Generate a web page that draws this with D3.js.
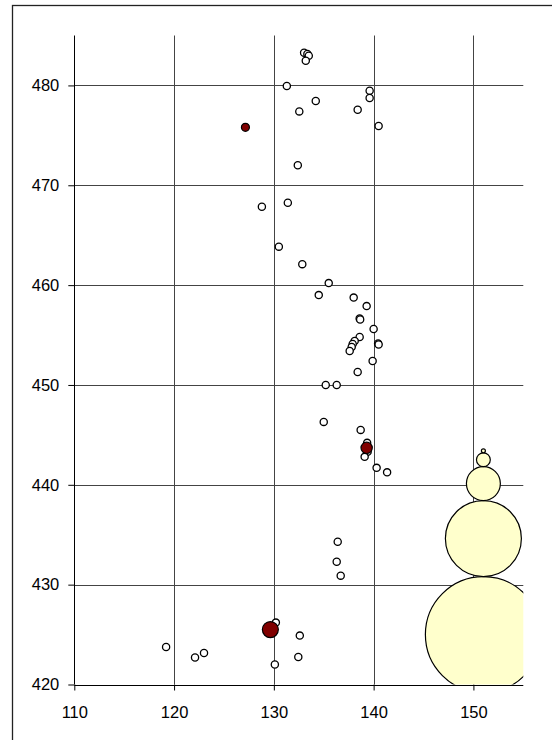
<!DOCTYPE html>
<html>
<head>
<meta charset="utf-8">
<script src="https://cdn.jsdelivr.net/npm/d3@7"></script>
<style>
  body { margin: 0; background: #fff; }
  svg text { font-family: "Liberation Sans", Arial, sans-serif; font-size: 16.5px; fill: #000; }
</style>
</head>
<body>
<div id="chart"></div>
<script>
// open markers
const pointX = [133.03, 133.36, 133.5, 133.2, 131.3, 139.6, 139.6, 134.2, 138.4, 132.55,
    140.5, 132.4, 128.8, 131.4, 130.5, 132.85, 135.5, 134.5, 138.0, 139.3,
    138.6, 138.65, 140.0, 138.6, 140.45, 140.5, 138.1, 137.9, 137.8, 137.6,
    139.9, 138.4, 135.2, 136.3, 135.0, 138.7, 139.35, 139.4, 139.1, 140.3,
    141.35, 136.4, 136.3, 136.7, 130.2, 132.6, 119.2, 122.1, 123.0, 132.45, 130.1];
const pointY = [483.27, 483.15, 482.98, 482.47, 479.94, 479.47, 478.74, 478.44, 477.57, 477.4,
    475.93, 472.0, 467.85, 468.25, 463.85, 462.1, 460.2, 459.0, 458.75, 457.9,
    456.65, 456.55, 455.6, 454.8, 454.15, 454.05, 454.4, 454.1, 453.8, 453.4,
    452.4, 451.3, 450.0, 450.0, 446.3, 445.5, 444.2, 443.3, 442.8, 441.7,
    441.25, 434.3, 432.3, 430.9, 426.2, 424.9, 423.75, 422.7, 423.15, 422.75, 422.0];

// highlighted bubbles
const redX = [127.15, 139.3, 129.65];
const redY = [475.8, 443.7, 425.5];
const redSize = [4, 8, 16];

// size legend bubbles (stacked, largest at the bottom)
const legendX = 151;
const legendBaseY = 425.0;
const legendSizes = [841, 361, 72, 12, 1];

const xTicks = [110, 120, 130, 140, 150];
const yTicks = [420, 430, 440, 450, 460, 470, 480];

const WIDTH = 552, HEIGHT = 740;
const PLOT = { left: 74.3, right: 523.3, top: 35.5, bottom: 684.5 };

const svg = d3.select("#chart").append("svg")
    .attr("width", WIDTH)
    .attr("height", HEIGHT);

// outer frame
svg.append("rect")
    .attr("x", 12.5).attr("y", 5.5)
    .attr("width", 600).attr("height", 800)
    .attr("fill", "none")
    .attr("stroke", "#222")
    .attr("stroke-width", 1.3);

const x = d3.scaleLinear().domain([110, 155]).range([PLOT.left, PLOT.right]);
const y = d3.scaleLinear().domain([420, 485]).range([PLOT.bottom, PLOT.top]);
const r = d3.scaleSqrt().domain([0, 841]).range([0, 58]);

svg.append("defs").append("clipPath").attr("id", "plotclip")
    .append("rect")
    .attr("x", PLOT.left).attr("y", PLOT.top)
    .attr("width", PLOT.right - PLOT.left)
    .attr("height", PLOT.bottom - PLOT.top);

// grid + axes
const yAxis = svg.append("g")
    .attr("transform", "translate(" + PLOT.left + ",0)")
    .call(d3.axisLeft(y).tickValues(yTicks).tickSize(6).tickPadding(9).tickFormat(d3.format("d")));
yAxis.select(".domain").remove();
yAxis.selectAll(".tick line").attr("stroke", "#000");
yAxis.selectAll(".tick text").attr("font-size", null).attr("font-family", null);

const xAxis = svg.append("g")
    .attr("transform", "translate(0," + PLOT.bottom + ")")
    .call(d3.axisBottom(x).tickValues(xTicks).tickSize(6).tickPadding(16).tickFormat(d3.format("d")));
xAxis.select(".domain").remove();
xAxis.selectAll(".tick line").attr("stroke", "#000");
xAxis.selectAll(".tick text").attr("font-size", null).attr("font-family", null);

svg.append("g")
    .selectAll("line")
    .data(yTicks)
    .enter()
    .append("line")
    .attr("x1", PLOT.left).attr("x2", PLOT.right)
    .attr("y1", d => Math.round(y(d)) + 0.5).attr("y2", d => Math.round(y(d)) + 0.5)
    .attr("stroke", d => d === 420 ? "#000" : "#444")
    .attr("stroke-width", 1);

svg.append("g")
    .selectAll("line")
    .data(xTicks)
    .enter()
    .append("line")
    .attr("y1", PLOT.top).attr("y2", PLOT.bottom)
    .attr("x1", d => Math.round(x(d)) + 0.5).attr("x2", d => Math.round(x(d)) + 0.5)
    .attr("stroke", d => d === 110 ? "#000" : "#444")
    .attr("stroke-width", 1);

const plot = svg.append("g").attr("clip-path", "url(#plotclip)");

// legend bubbles: stack them tangent to each other, largest at the bottom
let cy = y(legendBaseY);
const legend = legendSizes.map((v, i) => {
    if (i > 0) cy = cy - r(legendSizes[i - 1]) - r(v);
    return { v: v, cy: cy };
});

plot.append("g")
    .selectAll("circle")
    .data(legend)
    .enter()
    .append("circle")
    .attr("cx", x(legendX))
    .attr("cy", d => d.cy)
    .attr("r", d => r(d.v))
    .attr("fill", "#ffffcc")
    .attr("stroke", "#000")
    .attr("stroke-width", 1.2);

plot.append("g")
    .selectAll("circle")
    .data(pointX.map((d, i) => ({ x: d, y: pointY[i] })))
    .enter()
    .append("circle")
    .attr("cx", d => x(d.x))
    .attr("cy", d => y(d.y))
    .attr("r", 3.6)
    .attr("fill", "#fff")
    .attr("stroke", "#000")
    .attr("stroke-width", 1.3);

plot.append("g")
    .selectAll("circle")
    .data(redX.map((d, i) => ({ x: d, y: redY[i], s: redSize[i] })))
    .enter()
    .append("circle")
    .attr("cx", d => x(d.x))
    .attr("cy", d => y(d.y))
    .attr("r", d => r(d.s))
    .attr("fill", "#800000")
    .attr("stroke", "#000")
    .attr("stroke-width", 1.2);
</script>
</body>
</html>
